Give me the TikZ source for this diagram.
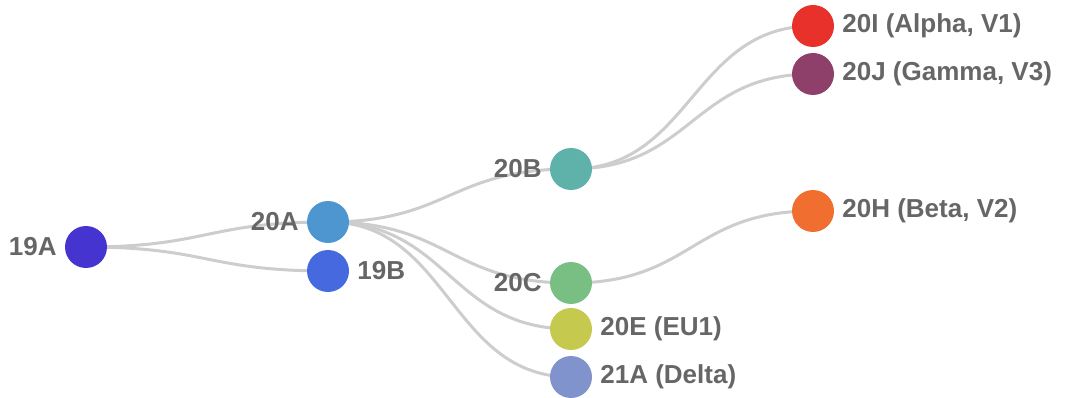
\documentclass[tikz,border=0pt]{standalone}
\usepackage{fontspec}
\setmainfont{Liberation Sans}
\usetikzlibrary{backgrounds}
\definecolor{c19A}{RGB}{69,52,208}
\definecolor{c20A}{RGB}{78,150,208}
\definecolor{c19B}{RGB}{70,105,224}
\definecolor{c20B}{RGB}{94,178,170}
\definecolor{c20C}{RGB}{121,191,132}
\definecolor{c20E}{RGB}{197,201,77}
\definecolor{c21A}{RGB}{129,147,204}
\definecolor{c20I}{RGB}{232,49,42}
\definecolor{c20J}{RGB}{142,63,106}
\definecolor{c20H}{RGB}{240,111,48}
\definecolor{tagtext}{RGB}{102,102,102}
\definecolor{branchgray}{RGB}{205,205,205}
\tikzset{
clade/.style={shape=circle, minimum size=42pt, inner sep=0, fill=#1}, tag/.style={text=tagtext, font=\bfseries\fontsize{26}{31}\selectfont, inner sep=0pt, label distance=8pt}, branch/.style={draw=branchgray, line width=3pt, out=0, in=180, out distance=121pt, in distance=121pt}}

\begin{document}
\begin{tikzpicture}[x=1pt, y=-1pt]
\useasboundingbox (0,0) rectangle (1066,398);
\node [clade=c19A, label={[tag]left:19A}] at (86, 247) (n19A) {};
\node [clade=c20A, label={[tag]left:20A}] at (328, 222) (n20A) {};
\node [clade=c19B, label={[tag]right:19B}] at (328, 271) (n19B) {};
\node [clade=c20B, label={[tag]left:20B}] at (571, 169) (n20B) {};
\node [clade=c20C, label={[tag]left:20C}] at (571, 283) (n20C) {};
\node [clade=c20E, label={[tag]right:20E (EU1)}] at (571, 329) (n20E) {};
\node [clade=c21A, label={[tag]right:21A (Delta)}] at (571, 377) (n21A) {};
\node [clade=c20I, label={[tag]right:20I (Alpha, V1)}] at (813, 26) (n20I) {};
\node [clade=c20J, label={[tag]right:20J (Gamma, V3)}] at (813, 74) (n20J) {};
\node [clade=c20H, label={[tag]right:20H (Beta, V2)}] at (813, 211) (n20H) {};

\begin{scope}[on background layer]
\foreach \from/\to in {19A/20A, 19A/19B, 20A/20B, 20A/20C, 20A/20E, 20A/21A, 20B/20I, 20B/20J, 20C/20H}{
      \draw [branch] (n\from.center) to (n\to.center);
}
\end{scope}
\end{tikzpicture}
\end{document}
